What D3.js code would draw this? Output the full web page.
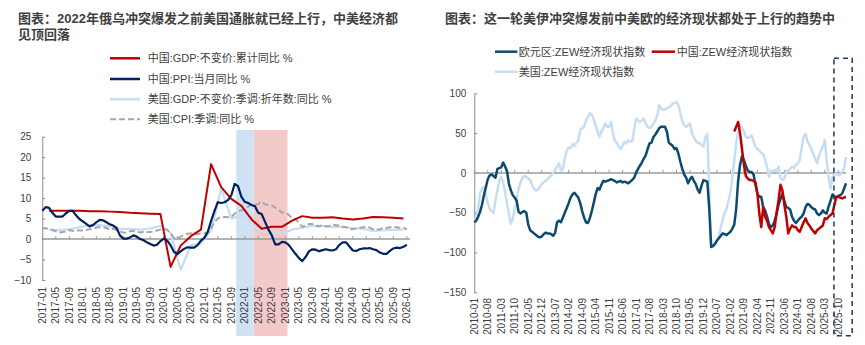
<!DOCTYPE html>
<html><head><meta charset="utf-8">
<script src="https://cdn.jsdelivr.net/npm/d3@7"></script>
<style>
html,body{margin:0;padding:0;background:#fff;}
svg{display:block;font-family:"Liberation Sans","Noto Sans CJK SC",sans-serif;}
</style></head><body>
<svg id="c" width="865" height="345"></svg>
<script>
// ---------------- DATA: left chart ----------------
const leftTickLabels = ["2017-01","2017-05","2017-09","2018-01","2018-05","2018-09","2019-01","2019-05","2019-09","2020-01","2020-05","2020-09","2021-01","2021-05","2021-09","2022-01","2022-05","2022-09","2023-01","2023-05","2023-09","2024-01","2024-05","2024-09","2025-01","2025-05","2025-09","2026-01"];
const leftYTicks = [25,20,15,10,5,0,-5,-10];
const leftStart = "2017-01";
// quarterly, quarter-end months 2017-03 .. 2025-12
const chinaGDP = [6.9,6.9,6.9,6.9, 6.8,6.8,6.7,6.6, 6.4,6.3,6.2,6.1, -6.8,-1.6,0.7,2.3, 18.3,12.7,9.8,8.1, 4.8,2.5,3.0,3.0, 4.5,5.6,5.2,5.2, 5.3,5.0,4.8,5.0, 5.4,5.3,5.2,5.0];
const usGDP    = [2.3,2.2,2.4,2.9, 3.3,3.4,3.1,2.5, 2.5,2.3,2.6,3.2, 1.5,-7.5,-1.5,-1.1, 2.0,12.3,5.0,5.7, 3.9,1.9,1.7,1.3, 2.3,2.8,3.2,3.2, 2.9,3.0,2.7,2.5, 2.0,2.1,2.3,2.2];
// monthly 2017-01 .. 2026-01
const chinaPPI = [
 6.9,7.8,7.6,6.4,5.5,5.5,5.5,6.3,6.9,6.9,5.8,4.9,
 4.3,3.7,3.1,3.4,4.1,4.7,4.6,4.1,3.6,3.3,2.7,0.9,
 0.1,0.1,0.4,0.9,0.6,0.0,-0.3,-0.8,-1.2,-1.6,-1.4,-0.5,
 0.1,-0.4,-1.5,-3.1,-3.7,-3.0,-2.4,-2.0,-2.1,-2.1,-1.5,-0.4,
 0.3,1.7,4.4,6.8,9.0,8.8,9.0,9.5,10.7,13.5,12.9,10.3,
 9.1,8.8,8.3,8.0,6.4,6.1,4.2,2.3,0.9,-1.3,-1.3,-0.7,
 -0.8,-1.4,-2.5,-3.6,-4.6,-5.4,-4.4,-3.0,-2.5,-2.6,-3.0,-2.7,
 -2.5,-2.7,-2.8,-2.5,-1.4,-0.8,-0.8,-1.8,-2.8,-2.9,-2.5,-2.3,
 -2.3,-2.2,-2.5,-2.7,-3.3,-3.6,-3.6,-2.9,-2.3,-2.1,-2.2,-1.9,
 -1.4];
const usCPI = [
 2.5,2.7,2.4,2.2,1.9,1.6,1.7,1.9,2.2,2.0,2.2,2.1,
 2.1,2.2,2.4,2.5,2.8,2.9,2.9,2.7,2.3,2.5,2.2,1.9,
 1.6,1.5,1.9,2.0,1.8,1.6,1.8,1.7,1.7,1.8,2.1,2.3,
 2.5,2.3,1.5,0.3,0.1,0.6,1.0,1.3,1.4,1.2,1.2,1.4,
 1.4,1.7,2.6,4.2,5.0,5.4,5.4,5.3,5.4,6.2,6.8,7.0,
 7.5,7.9,8.5,8.3,8.6,9.1,8.5,8.3,8.2,7.7,7.1,6.5,
 6.4,6.0,5.0,4.9,4.0,3.0,3.2,3.7,3.7,3.2,3.1,3.4,
 3.1,3.2,3.5,3.4,3.3,3.0,2.9,2.5,2.4,2.6,2.7,2.9,
 3.0,2.8,2.4,2.3,2.4,2.7,2.7,2.9,3.0,2.9,2.7,2.7,
 2.4];
const leftBands = [
  {from:"2021-10", to:"2022-03", fill:"#CFE2F4"},
  {from:"2022-03", to:"2023-01", fill:"#F3C9CA"}
];
const leftLegend = ["中国:GDP:不变价:累计同比 %","中国:PPI:当月同比 %","美国:GDP:不变价:季调:折年数:同比 %","美国:CPI:季调:同比 %"];

// ---------------- DATA: right chart ----------------
const rightTickLabels = ["2010-01","2010-08","2011-03","2011-10","2012-05","2012-12","2013-07","2014-02","2014-09","2015-04","2015-11","2016-06","2017-01","2017-08","2018-03","2018-10","2019-05","2019-12","2020-07","2021-02","2021-09","2022-04","2022-11","2023-06","2024-01","2024-08","2025-03","2025-10"];
const rightYTicks = [100,50,0,-50,-100,-150];
const rightStart = "2010-01";
// monthly 2010-01 .. 2026-02
const euroZEW = [
 -62,-60,-55,-49,-40,-28,-18,-8,-3,-2,-4,-6,
 5,6,7,13,8,2,-14,-22,-28,-31,-35,-49,
 -51,-49,-48,-50,-65,-72,-74,-76,-78,-80,-81,-80,
 -77,-75,-76,-76,-77,-79,-75,-62,-60,-62,-56,-50,
 -44,-38,-31,-27,-25,-28,-31,-38,-48,-56,-62,-63,
 -57,-48,-38,-27,-19,-21,-15,-10,-11,-10,-9,-8,
 -9,-10,-12,-11,-10,-12,-11,-12,-13,-11,-9,-6,
 0,5,9,13,18,22,30,37,38,45,48,52,
 56,58,58,58,52,38,36,34,30,31,24,14,
 5,-2,-6,-13,-8,-5,-10,-14,-21,-25,-16,-9,
 -10,-11,-45,-93,-92,-89,-85,-82,-79,-76,-77,-78,
 -76,-74,-70,-65,-45,-10,10,21,16,9,3,1,
 1,-2,-15,-26,-30,-30,-43,-47,-55,-64,-68,-66,
 -60,-51,-40,-33,-26,-35,-43,-44,-46,-55,-60,-63,
 -60,-57,-55,-51,-43,-39,-40,-43,-45,-46,-51,-53,
 -51,-47,-50,-51,-42,-35,-27,-30,-31,-29,-28,-26,
 -20,-13];
const usZEW = [
 -62,-55,-46,-25,-20,-18,-28,-38,-45,-48,-50,-35,
 -22,-10,-5,-12,-25,-38,-52,-64,-58,-46,-34,-20,
 -12,-6,-4,-5,-7,-9,-15,-20,-22,-21,-18,-14,
 -12,-10,-8,-5,-3,0,4,8,12,3,5,18,
 28,32,31,36,34,38,40,54,56,58,66,70,
 75,73,68,60,52,45,52,56,62,58,58,64,
 50,40,38,33,30,34,39,37,41,39,40,54,
 68,66,64,66,68,62,58,56,58,62,66,72,
 85,81,79,80,81,83,84,87,88,89,85,75,
 65,60,58,60,62,50,45,40,38,37,35,33,
 45,49,-20,-93,-91,-89,-85,-80,-68,-59,-50,-45,
 -35,-25,-5,15,37,52,60,57,52,45,44,45,
 47,40,33,30,28,25,24,16,8,-5,3,2,
 4,2,8,-7,-9,-7,3,2,5,8,6,10,
 12,16,32,45,49,40,35,30,24,18,12,22,
 28,33,41,15,-5,-20,-5,-2,-1,-3,-2,1,
 5,20];
const chinaZEWStart = "2021-04";
const chinaZEW = [
 52,58,64,50,30,10,-4,-7,-9,
 -9,-10,-12,-26,-51,-68,-43,-55,-60,-68,-72,-76,
 -68,-50,-34,-15,-22,-40,-55,-76,-70,-66,-68,-68,
 -72,-74,-68,-62,-57,-63,-66,-70,-73,-76,-72,-70,
 -68,-66,-57,-58,-55,-53,-51,-40,-30,-30,-31,-32,
 -31,-30];
const highlightFrom = "2025-08", highlightTo = "2026-05";
const rightLegend = ["欧元区:ZEW经济现状指数","中国:ZEW经济现状指数","美国:ZEW经济现状指数"];

// ---------------- helpers ----------------
const svg = d3.select("#c");
const FONT = '"Liberation Sans","Noto Sans CJK SC",sans-serif';
const TXT = "#404040", AX = "#8C8C8C";
function mIdx(label, base){
  const [y,m] = label.split("-").map(Number), [by,bm] = base.split("-").map(Number);
  return (y-by)*12 + (m-bm);
}
function addTitle(x, y, lines){
  lines.forEach((t,i)=> svg.append("text").attr("x",x).attr("y",y+i*15.5).text(t)
    .attr("font-size",13).attr("font-weight","bold").attr("fill","#3F3F3F").attr("font-family",FONT));
}
function legendItem(x1,x2,y,color,dash,w,label,tx){
  svg.append("line").attr("x1",x1).attr("x2",x2).attr("y1",y).attr("y2",y)
    .attr("stroke",color).attr("stroke-width",w).attr("stroke-dasharray",dash||null);
  svg.append("text").attr("x",tx).attr("y",y).attr("dominant-baseline","central")
    .attr("font-size",11).attr("fill",TXT).attr("font-family",FONT).text(label);
}
function xLabels(g, labels, x, base, yTop){
  labels.forEach(l=>{
    g.append("text").attr("transform",`translate(${x(mIdx(l,base))},${yTop}) rotate(-90)`)
      .attr("text-anchor","end").attr("dominant-baseline","central")
      .attr("font-size",10).attr("fill",TXT).attr("font-family",FONT).text(l);
  });
}
function styleAxis(g){
  g.select(".domain").attr("stroke",AX).attr("stroke-width",1);
  g.selectAll(".tick line").attr("stroke",AX);
  g.selectAll(".tick text").attr("font-size",10).attr("fill",TXT).attr("font-family",FONT);
}

// ================= LEFT CHART =================
addTitle(18, 23, ["图表：2022年俄乌冲突爆发之前美国通胀就已经上行，中美经济都","见顶回落"]);
const xL = d3.scaleLinear().domain([0,109]).range([42.3,410.2]);
const yL = d3.scaleLinear().domain([-10,25]).range([280,136.7]);
const gL = svg.append("g");
leftBands.forEach((b,i)=>{
  const a = mIdx(b.from,leftStart) + (i===0 ? 0.45 : 0.65), c = mIdx(b.to,leftStart)+0.65;
  gL.append("rect").attr("x",xL(a)).attr("width",xL(c)-xL(a)).attr("y",130).attr("height",206).attr("fill",b.fill);
});
// y axis
const ayL = gL.append("g").attr("transform",`translate(${xL(0)},0)`)
  .call(d3.axisLeft(yL).tickValues(leftYTicks).tickSize(-3).tickSizeOuter(0).tickPadding(11).tickFormat(d3.format("d")));
styleAxis(ayL);
// zero axis
gL.append("line").attr("x1",xL(0)).attr("x2",xL(109)).attr("y1",yL(0)).attr("y2",yL(0)).attr("stroke","#9A9A9A").attr("stroke-width",1.5);
leftTickLabels.forEach(l=>{ const xx=xL(mIdx(l,leftStart));
  gL.append("line").attr("x1",xx).attr("x2",xx).attr("y1",yL(0)).attr("y2",yL(0)-3).attr("stroke","#9A9A9A"); });
xLabels(gL, leftTickLabels, xL, leftStart, 287);

const qData = arr => arr.map((v,i)=>({m: 2+3*i, v}));
const mData = (arr, off=0) => arr.map((v,i)=>({m: i+off, v}));
const lineL = d3.line().x(d=>xL(d.m)).y(d=>yL(d.v));
gL.append("path").datum(qData(usGDP)).attr("d",lineL).attr("fill","none").attr("stroke","#C6DDF2").attr("stroke-width",2.2).attr("stroke-linejoin","round");
gL.append("path").datum(mData(usCPI)).attr("d",lineL).attr("fill","none").attr("stroke","#A6A6A6").attr("stroke-width",2).attr("stroke-dasharray","6,3");
gL.append("path").datum(qData(chinaGDP)).attr("d",lineL).attr("fill","none").attr("stroke","#C00000").attr("stroke-width",2).attr("stroke-linejoin","round");
gL.append("path").datum(mData(chinaPPI)).attr("d",lineL).attr("fill","none").attr("stroke","#002060").attr("stroke-width",2.2).attr("stroke-linejoin","round");

// legend
const lgY = [58.3,79,99.3,119.3];
legendItem(110,140,lgY[0],"#C00000",null,2.5,leftLegend[0],147.7);
legendItem(110,140,lgY[1],"#002060",null,2.5,leftLegend[1],147.7);
legendItem(110,140,lgY[2],"#C6DDF2",null,2.5,leftLegend[2],147.7);
legendItem(110,140,lgY[3],"#A6A6A6","6,3",2,leftLegend[3],147.7);

// ================= RIGHT CHART =================
addTitle(445, 23, ["图表：这一轮美伊冲突爆发前中美欧的经济现状都处于上行的趋势中"]);
const xR = d3.scaleLinear().domain([0,194]).range([474.3,847.9]);
const yR = d3.scaleLinear().domain([-150,100]).range([292.3,93.3]);
const gR = svg.append("g");
const ayR = gR.append("g").attr("transform",`translate(${xR(0)},0)`)
  .call(d3.axisLeft(yR).tickValues(rightYTicks).tickSize(-3).tickSizeOuter(0).tickPadding(8).tickFormat(d3.format("d")));
styleAxis(ayR);
gR.append("line").attr("x1",xR(0)).attr("x2",xR(193)).attr("y1",yR(0)).attr("y2",yR(0)).attr("stroke","#9A9A9A").attr("stroke-width",1.5);
rightTickLabels.forEach(l=>{ const xx=xR(mIdx(l,rightStart));
  gR.append("line").attr("x1",xx).attr("x2",xx).attr("y1",yR(0)).attr("y2",yR(0)-3).attr("stroke","#9A9A9A"); });
xLabels(gR, rightTickLabels, xR, rightStart, 298);

const lineR = d3.line().x(d=>xR(d.m)).y(d=>yR(d.v));
gR.append("path").datum(mData(usZEW)).attr("d",lineR).attr("fill","none").attr("stroke","#C6DDF2").attr("stroke-width",2.5).attr("stroke-linejoin","round");
gR.append("path").datum(mData(euroZEW)).attr("d",lineR).attr("fill","none").attr("stroke","#0C4A6E").attr("stroke-width",2.5).attr("stroke-linejoin","round");
gR.append("path").datum(mData(chinaZEW, mIdx(chinaZEWStart,rightStart))).attr("d",lineR).attr("fill","none").attr("stroke","#C00000").attr("stroke-width",2.5).attr("stroke-linejoin","round");

// highlight box
const hx1 = xR(mIdx(highlightFrom,rightStart))-0.5, hx2 = xR(mIdx(highlightTo,rightStart))+0.4;
gR.append("rect").attr("x",hx1).attr("y",58.3).attr("width",hx2-hx1).attr("height",277.4)
  .attr("fill","none").attr("stroke","#1F3864").attr("stroke-width",1.5).attr("stroke-dasharray","5,4");

legendItem(495,517.3,51.7,"#0C4A6E",null,2.5,rightLegend[0],518.8);
legendItem(651.7,675,51.7,"#C00000",null,2.5,rightLegend[1],676.7);
legendItem(495,517.3,71.7,"#C6DDF2",null,2.5,rightLegend[2],518.8);
</script></body></html>
